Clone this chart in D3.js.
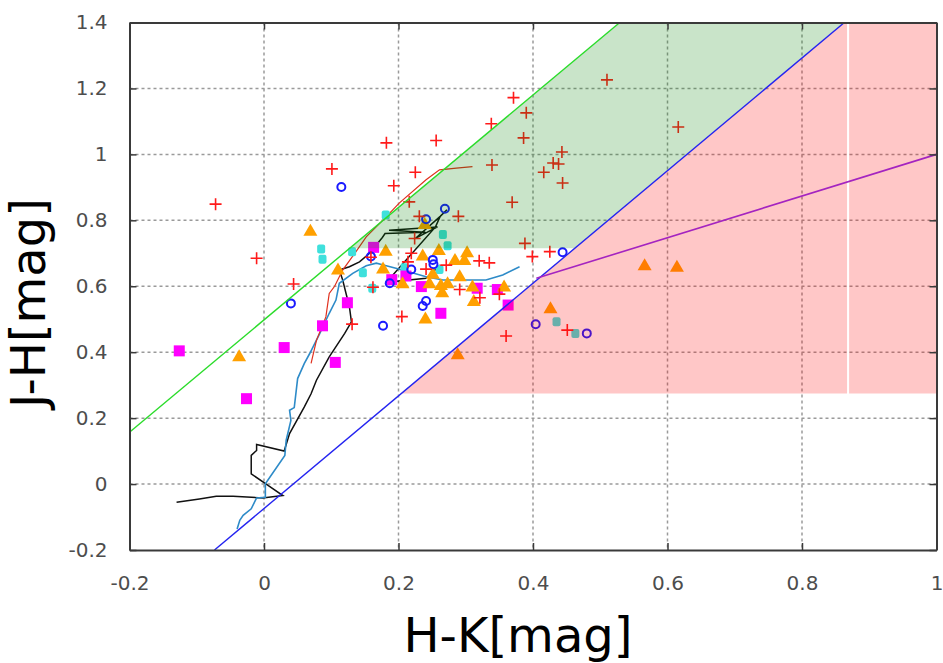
<!DOCTYPE html>
<html>
<head>
<meta charset="utf-8">
<script src="https://cdn.jsdelivr.net/npm/d3@7"></script>
<style>
  body { margin: 0; background: #fff; }
  svg { display: block; }
  .tick text { font-family: "DejaVu Sans", sans-serif; font-size: 20px; fill: #4d4d4d; }
  .axis-title { font-family: "DejaVu Sans", sans-serif; font-size: 48px; fill: #000; }
</style>
</head>
<body>
<svg id="chart" width="943" height="663"></svg>
<script>
// tick values
const xTicks = [-0.2, 0, 0.2, 0.4, 0.6, 0.8, 1]
const yTicks = [-0.2, 0, 0.2, 0.4, 0.6, 0.8, 1, 1.2, 1.4]

// [H-K, J-H] pairs
const redPlus = [
  [-0.072, 0.849], [-0.011, 0.685], [0.044, 0.607], [0.101, 0.956], [0.182, 1.035],
  [0.193, 0.905], [0.225, 0.946], [0.256, 1.042], [0.216, 0.856], [0.231, 0.812],
  [0.289, 0.812], [0.339, 0.968], [0.338, 1.093], [0.371, 1.172], [0.390, 1.126],
  [0.386, 1.050], [0.369, 0.855], [0.510, 1.226], [0.616, 1.083], [0.443, 1.007],
  [0.430, 0.974], [0.438, 0.971], [0.416, 0.946], [0.444, 0.913], [0.388, 0.730],
  [0.399, 0.690], [0.425, 0.705], [0.451, 0.467], [0.360, 0.449], [0.224, 0.745],
  [0.219, 0.700], [0.214, 0.674], [0.241, 0.652], [0.271, 0.664], [0.320, 0.677],
  [0.335, 0.671], [0.291, 0.590], [0.321, 0.565], [0.350, 0.576], [0.205, 0.508],
  [0.131, 0.485], [0.162, 0.597], [0.159, 0.688]
]
const blueCircle = [
  [0.115, 0.901], [0.040, 0.548], [0.269, 0.835], [0.241, 0.803], [0.251, 0.680],
  [0.252, 0.667], [0.219, 0.651], [0.159, 0.690], [0.187, 0.609], [0.241, 0.555],
  [0.236, 0.540], [0.177, 0.480], [0.404, 0.485], [0.444, 0.703], [0.480, 0.457]
]
const cyanDot = [
  [0.085, 0.713], [0.087, 0.682], [0.131, 0.705], [0.147, 0.641], [0.181, 0.816],
  [0.161, 0.594], [0.266, 0.757], [0.273, 0.723], [0.209, 0.656], [0.261, 0.651],
  [0.435, 0.492], [0.463, 0.457]
]
const orangeTri = [
  [0.069, 0.768], [0.110, 0.651], [-0.037, 0.388], [0.288, 0.394], [0.181, 0.708],
  [0.177, 0.654], [0.239, 0.789], [0.260, 0.710], [0.236, 0.693], [0.284, 0.680],
  [0.302, 0.703], [0.298, 0.680], [0.291, 0.630], [0.246, 0.609], [0.263, 0.604],
  [0.273, 0.609], [0.265, 0.582], [0.206, 0.609], [0.310, 0.599], [0.357, 0.599],
  [0.312, 0.555], [0.240, 0.502], [0.251, 0.638], [0.566, 0.664], [0.614, 0.659],
  [0.426, 0.533]
]
const magentaSq = [
  [-0.126, 0.404], [0.030, 0.414], [0.087, 0.480], [0.124, 0.550], [0.106, 0.369],
  [-0.026, 0.259], [0.163, 0.718], [0.190, 0.620], [0.211, 0.631], [0.234, 0.599],
  [0.263, 0.518], [0.317, 0.594], [0.347, 0.590], [0.363, 0.543]
]

// loci
const dwarfLocus = [
  [-0.040, -0.136], [-0.036, -0.110], [-0.031, -0.095], [-0.019, -0.075], [-0.011, -0.042],
  [0.002, -0.040], [0.002, 0.001], [0.031, 0.087], [0.033, 0.133], [0.040, 0.193],
  [0.038, 0.224], [0.045, 0.232], [0.050, 0.320], [0.060, 0.366], [0.068, 0.396],
  [0.083, 0.457], [0.097, 0.518], [0.107, 0.558], [0.112, 0.609], [0.132, 0.639],
  [0.152, 0.662], [0.167, 0.670], [0.179, 0.664], [0.206, 0.649], [0.241, 0.629],
  [0.266, 0.619], [0.330, 0.619], [0.355, 0.634], [0.380, 0.659]
]
const giantLocus = [
  [0.070, 0.366], [0.078, 0.436], [0.092, 0.507], [0.097, 0.578], [0.105, 0.600],
  [0.117, 0.649], [0.135, 0.700], [0.152, 0.750], [0.182, 0.811], [0.201, 0.852],
  [0.241, 0.923], [0.261, 0.953], [0.286, 0.958], [0.310, 0.963]
]
const blackTrack = [
  [-0.130, -0.055], [-0.096, -0.045], [-0.071, -0.037], [-0.046, -0.037], [-0.002, -0.042],
  [0.028, -0.035], [0.006, -0.004], [-0.019, 0.031], [-0.019, 0.087], [-0.011, 0.102],
  [-0.011, 0.120], [0.030, 0.100], [0.038, 0.153], [0.060, 0.234], [0.070, 0.274],
  [0.078, 0.315], [0.097, 0.386], [0.120, 0.457], [0.130, 0.492], [0.127, 0.538],
  [0.122, 0.578], [0.117, 0.619], [0.112, 0.649], [0.127, 0.659], [0.142, 0.674],
  [0.157, 0.700], [0.176, 0.748], [0.180, 0.760], [0.240, 0.764], [0.186, 0.770],
  [0.258, 0.780], [0.225, 0.745], [0.262, 0.812], [0.272, 0.832], [0.262, 0.812],
  [0.255, 0.780], [0.182, 0.612], [0.241, 0.624], [0.262, 0.664]
]

// reddening band and CTTS line
const greenLine = [[-0.2, 0.157], [0.529, 1.4]]
const blueLine = [[-0.0736, -0.2], [0.863, 1.4]]
const purpleLine = [[0.405, 0.624], [1.0, 1.0]]
const greenZone = [[0.127, 0.715], [0.529, 1.4], [0.863, 1.4], [0.462, 0.715]]
const pinkZone = [[0.204, 0.275], [0.863, 1.4], [0.867, 1.4], [0.867, 0.275]]
const pinkZone2 = [[0.870, 0.275], [0.870, 1.4], [1.0, 1.4], [1.0, 0.275]]

const svg = d3.select('#chart')
const pLeft = 129.5, pRight = 936.5, pTop = 22.5, pBottom = 550

const x = d3.scaleLinear().domain([-0.2, 1]).range([pLeft, pRight])
const y = d3.scaleLinear().domain([-0.2, 1.4]).range([pBottom, pTop])
const line = d3.line().x(d => x(d[0])).y(d => y(d[1]))

// grid
const grid = svg.append('g').attr('class', 'grid')
grid.selectAll('.gx')
  .data(xTicks.slice(1, -1))
  .enter()
  .append('line')
  .attr('x1', d => x(d)).attr('x2', d => x(d))
  .attr('y1', pTop).attr('y2', pBottom)
grid.selectAll('.gy')
  .data(yTicks.slice(1, -1))
  .enter()
  .append('line')
  .attr('x1', pLeft).attr('x2', pRight)
  .attr('y1', d => y(d)).attr('y2', d => y(d))
grid.selectAll('line')
  .attr('stroke', '#9a9a9a')
  .attr('stroke-width', 1.5)
  .attr('stroke-dasharray', '3,3')

// loci
svg.append('path').datum(blackTrack).attr('d', line)
  .attr('fill', 'none').attr('stroke', '#111').attr('stroke-width', 1.5)
svg.append('path').datum(dwarfLocus).attr('d', line)
  .attr('fill', 'none').attr('stroke', '#2e8bc8').attr('stroke-width', 1.6)
svg.append('path').datum(giantLocus).attr('d', line)
  .attr('fill', 'none').attr('stroke', '#e0301e').attr('stroke-width', 1.2)

// points
const pts = svg.append('g')
pts.selectAll('.cyan')
  .data(cyanDot)
  .enter()
  .append('rect')
  .attr('x', d => x(d[0]) - 4).attr('y', d => y(d[1]) - 4.5)
  .attr('width', 8).attr('height', 9).attr('rx', 2)
  .attr('fill', '#3fe0dc')
pts.selectAll('.mag')
  .data(magentaSq)
  .enter()
  .append('rect')
  .attr('x', d => x(d[0]) - 5.5).attr('y', d => y(d[1]) - 5.5)
  .attr('width', 11).attr('height', 11)
  .attr('fill', '#ff00ff')
pts.selectAll('.tri')
  .data(orangeTri)
  .enter()
  .append('path')
  .attr('transform', d => `translate(${x(d[0])},${y(d[1])})`)
  .attr('d', 'M0,-7L7,5H-7Z')
  .attr('fill', '#ffa000')
pts.selectAll('.circ')
  .data(blueCircle)
  .enter()
  .append('circle')
  .attr('cx', d => x(d[0])).attr('cy', d => y(d[1]))
  .attr('r', 4)
  .attr('fill', 'none')
  .attr('stroke', '#1a1aff')
  .attr('stroke-width', 2)
pts.selectAll('.plus')
  .data(redPlus)
  .enter()
  .append('path')
  .attr('transform', d => `translate(${x(d[0])},${y(d[1])})`)
  .attr('d', 'M-6,0H6M0,-6V6')
  .attr('stroke', '#ff1a1a')
  .attr('stroke-width', 1.6)

// zones drawn over the points, semi transparent
svg.append('path').datum(greenZone).attr('d', d => line(d) + 'Z')
  .attr('fill', 'rgba(0,128,0,0.21)')
svg.append('path').datum(pinkZone).attr('d', d => line(d) + 'Z')
  .attr('fill', 'rgba(255,0,0,0.22)')
svg.append('path').datum(pinkZone2).attr('d', d => line(d) + 'Z')
  .attr('fill', 'rgba(255,0,0,0.22)')

svg.append('path').datum(greenLine).attr('d', line)
  .attr('stroke', '#2bdc2b').attr('stroke-width', 1.4)
svg.append('path').datum(blueLine).attr('d', line)
  .attr('stroke', '#2424f0').attr('stroke-width', 1.4)
svg.append('path').datum(purpleLine).attr('d', line)
  .attr('stroke', '#a424c0').attr('stroke-width', 1.6)

// axes, ticks inward
const fmt = d => String(d)
svg.append('g')
  .attr('transform', `translate(0,${pBottom})`)
  .call(d3.axisBottom(x).tickValues(xTicks).tickFormat(fmt).tickSize(-7).tickSizeOuter(0).tickPadding(26))
svg.append('g')
  .attr('transform', `translate(${pLeft},0)`)
  .call(d3.axisLeft(y).tickValues(yTicks).tickFormat(fmt).tickSize(-7).tickSizeOuter(0).tickPadding(22))
svg.append('g')
  .attr('transform', `translate(0,${pTop})`)
  .call(d3.axisTop(x).tickValues(xTicks).tickFormat('').tickSize(-7).tickSizeOuter(0))
svg.append('g')
  .attr('transform', `translate(${pRight},0)`)
  .call(d3.axisRight(y).tickValues(yTicks).tickFormat('').tickSize(-7).tickSizeOuter(0))
svg.selectAll('.domain').attr('stroke', '#3a3a3a').attr('stroke-width', 2)
svg.selectAll('.tick line').attr('stroke', '#3a3a3a').attr('stroke-width', 1.5)

svg.append('text')
  .attr('class', 'axis-title')
  .attr('text-anchor', 'middle')
  .attr('x', 518)
  .attr('y', 652)
  .text('H-K[mag]')

svg.append('text')
  .attr('class', 'axis-title')
  .attr('text-anchor', 'middle')
  .attr('transform', 'translate(45,303) rotate(-90)')
  .text('J-H[mag]')
</script>
</body>
</html>
